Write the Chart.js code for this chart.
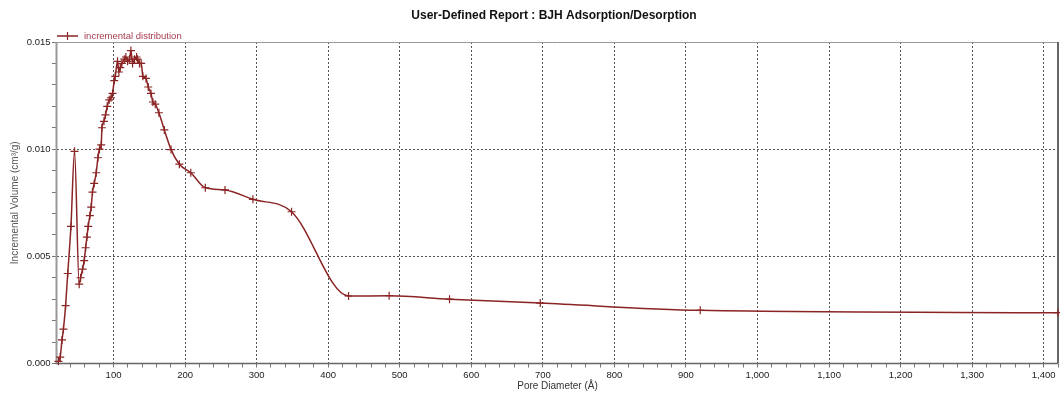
<!DOCTYPE html>
<html>
<head>
<meta charset="utf-8">
<title>User-Defined Report : BJH Adsorption/Desorption</title>
<script src="https://cdn.jsdelivr.net/npm/chart.js@4.4.1/dist/chart.umd.min.js"></script>
<style>
  html, body { margin: 0; padding: 0; background: #fff; }
  canvas { display: block; }
</style>
</head>
<body>
<canvas id="bjh-chart" width="1060" height="394"></canvas>
<script>
"use strict";

// ── Data ───────────────────────────────────────────────────────────── //
const poreDiameter = [
  23.0, 25.5, 28.0, 30.0, 33.0, 36.0, 40.5, 45.5, 52.0, 54.0,
  56.7, 59.0, 61.0, 62.8, 64.6, 67.0, 68.8, 70.6, 73.0, 75.8,
  78.2, 80.4, 82.8, 83.8, 86.6, 88.8, 91.2, 94.0, 96.4, 98.6,
  101.0, 102.4, 105.6, 107.5, 109.4, 111.7, 115.0, 117.3, 119.6, 122.4,
  124.3, 126.6, 129.4, 132.2, 133.5, 136.3, 138.7, 141.0, 145.3, 148.5,
  152.3, 155.0, 158.3, 163.4, 171.0, 180.4, 192.0, 208.0, 228.3, 255.8,
  294.8, 348.8, 428.5, 485.2, 569.6, 696.4, 920.0, 1420.0
];
const incrementalVolume = [
  0.00010, 0.00030, 0.00110, 0.00160, 0.00270, 0.00420, 0.00640, 0.00990, 0.00370, 0.00400,
  0.00440, 0.00480, 0.00540, 0.00590, 0.00640, 0.00690, 0.00730, 0.00800, 0.00840, 0.00890,
  0.00960, 0.01000, 0.01020, 0.01100, 0.01130, 0.01160, 0.01200, 0.01230, 0.01240, 0.01260,
  0.01320, 0.01340, 0.01410, 0.01360, 0.01380, 0.01400, 0.01420, 0.01430, 0.01410, 0.01420,
  0.01460, 0.01400, 0.01420, 0.01430, 0.01420, 0.01400, 0.01400, 0.01340, 0.01330, 0.01290,
  0.01260, 0.01220, 0.01210, 0.01170, 0.01090, 0.00998, 0.00930, 0.00890, 0.00820, 0.00810,
  0.00766, 0.00708, 0.00315, 0.00316, 0.00300, 0.00282, 0.00248, 0.00237
];

const xTickLabels = [100, 200, 300, 400, 500, 600, 700, 800, 900, 1000, 1100, 1200, 1300, 1400];
const yTickLabels = [0, 0.005, 0.010, 0.015];

const TITLE        = "User-Defined Report : BJH Adsorption/Desorption";
const SERIES_LABEL = "incremental distribution";
const X_TITLE      = "Pore Diameter (Å)";
const Y_TITLE      = "Incremental Volume (cm³/g)";

// ── Look ───────────────────────────────────────────────────────────── //
const X_MIN = 21, X_MAX = 1420, X_MINOR = 20;
const Y_MIN = 0,  Y_MAX = 0.015, Y_MINOR = 0.001;

const FONT       = "'Liberation Sans', Arial, sans-serif";
const LINE_COLOR = "#8b2424";
const GRID_COLOR = "#555";
const TICK_COLOR = "#777";
const TEXT_COLOR = "#222";

const isXMajor = v => xTickLabels.includes(Math.round(v));
const isYMajor = v => yTickLabels.some(t => Math.abs(t - v) < 1e-9);

// ── Plugins: frame, title, legend ──────────────────────────────────── //
const framePlugin = {
  id: "frame",
  beforeDatasetsDraw(chart) {
    const { ctx, chartArea: a } = chart;
    ctx.save();
    ctx.lineWidth = 1;
    ctx.strokeStyle = "#999";
    ctx.beginPath(); ctx.moveTo(a.left, a.top + 0.5); ctx.lineTo(a.right, a.top + 0.5); ctx.stroke();
    ctx.lineWidth = 2;
    ctx.strokeStyle = "#666";
    ctx.beginPath(); ctx.moveTo(a.right, a.top); ctx.lineTo(a.right, a.bottom); ctx.stroke();
    ctx.strokeStyle = "#999";
    ctx.beginPath(); ctx.moveTo(a.left - 0.5, a.top); ctx.lineTo(a.left - 0.5, a.bottom); ctx.stroke();
    ctx.lineWidth = 1.5;
    ctx.strokeStyle = "#666";
    ctx.beginPath(); ctx.moveTo(a.left - 1.5, a.bottom); ctx.lineTo(a.right, a.bottom); ctx.stroke();
    ctx.restore();
  },
  afterDraw(chart) {
    const { ctx } = chart;
    ctx.save();
    // title
    ctx.fillStyle = "#111";
    ctx.font = `bold 12px ${FONT}`;
    ctx.textAlign = "center";
    ctx.textBaseline = "middle";
    ctx.fillText(TITLE, 554, 16);
    // legend
    const ly = 36;
    ctx.strokeStyle = LINE_COLOR;
    ctx.lineWidth = 1.5;
    ctx.beginPath(); ctx.moveTo(57, ly); ctx.lineTo(78, ly); ctx.stroke();
    ctx.lineWidth = 1.2;
    ctx.beginPath(); ctx.moveTo(67.5, ly - 4); ctx.lineTo(67.5, ly + 4); ctx.stroke();
    ctx.fillStyle = "#a83c50";
    ctx.font = `9.5px ${FONT}`;
    ctx.textAlign = "left";
    ctx.fillText(SERIES_LABEL, 84, ly);
    ctx.restore();
  },
};

// ── Chart ──────────────────────────────────────────────────────────── //
const points = poreDiameter.map((x, i) => ({ x, y: incrementalVolume[i] }));

new Chart(document.getElementById("bjh-chart"), {
  type: "line",
  data: {
    datasets: [{
      label: SERIES_LABEL,
      data: points,
      borderColor: LINE_COLOR,
      borderWidth: 1.5,
      cubicInterpolationMode: "monotone",
      pointStyle: "cross",
      pointRadius: 4,
      pointBorderWidth: 1.2,
      pointBorderColor: LINE_COLOR,
      fill: false,
      clip: false,
    }],
  },
  options: {
    responsive: false,
    animation: false,
    layout: { autoPadding: false, padding: { top: 42, right: 2, left: 0, bottom: 0 } },
    plugins: { legend: { display: false }, title: { display: false }, tooltip: { enabled: false } },
    scales: {
      x: {
        type: "linear",
        min: X_MIN,
        max: X_MAX,
        afterBuildTicks: s => {
          const t = [];
          for (let v = 40; v <= X_MAX; v += X_MINOR) t.push({ value: v });
          s.ticks = t;
        },
        afterFit: s => {
          s.height = 30.5;
          s.paddingLeft = 0;
          s.paddingRight = 0;
        },
        ticks: {
          autoSkip: false,
          maxRotation: 0,
          padding: 2,
          color: TEXT_COLOR,
          font: { family: FONT, size: 9.5 },
          callback: v => isXMajor(v) ? v.toLocaleString("en-US") : "",
        },
        grid: {
          color: c => (c.tick && isXMajor(c.tick.value)) ? GRID_COLOR : "rgba(0,0,0,0)",
          lineWidth: 1,
          tickColor: TICK_COLOR,
          tickWidth: 1,
          tickLength: 4,
        },
        border: { display: false, dash: [2, 2] },
        title: {
          display: true,
          text: X_TITLE,
          color: "#333",
          font: { family: FONT, size: 10 },
          padding: { top: 0, bottom: 2 },
        },
      },
      y: {
        min: Y_MIN,
        max: Y_MAX,
        afterBuildTicks: s => {
          const t = [];
          for (let i = 0; i <= Math.round(Y_MAX / Y_MINOR); i++) t.push({ value: i / 1000 });
          s.ticks = t;
        },
        afterFit: s => {
          s.width = 57;
          s.paddingTop = 0;
          s.paddingBottom = 0;
        },
        ticks: {
          autoSkip: false,
          padding: 1.5,
          color: TEXT_COLOR,
          font: { family: FONT, size: 9.5 },
          callback: v => isYMajor(v) ? v.toFixed(3) : "",
        },
        grid: {
          color: c => (c.tick && isYMajor(c.tick.value) && c.tick.value > 0 && c.tick.value < Y_MAX)
            ? GRID_COLOR : "rgba(0,0,0,0)",
          lineWidth: 1,
          tickColor: TICK_COLOR,
          tickWidth: 1,
          tickLength: 5,
        },
        border: { display: false, dash: [2, 2] },
        title: {
          display: true,
          text: Y_TITLE,
          color: "#555",
          font: { family: FONT, size: 10 },
          padding: { top: 9.5, bottom: 0 },
        },
      },
    },
  },
  plugins: [framePlugin],
});
</script>
</body>
</html>
